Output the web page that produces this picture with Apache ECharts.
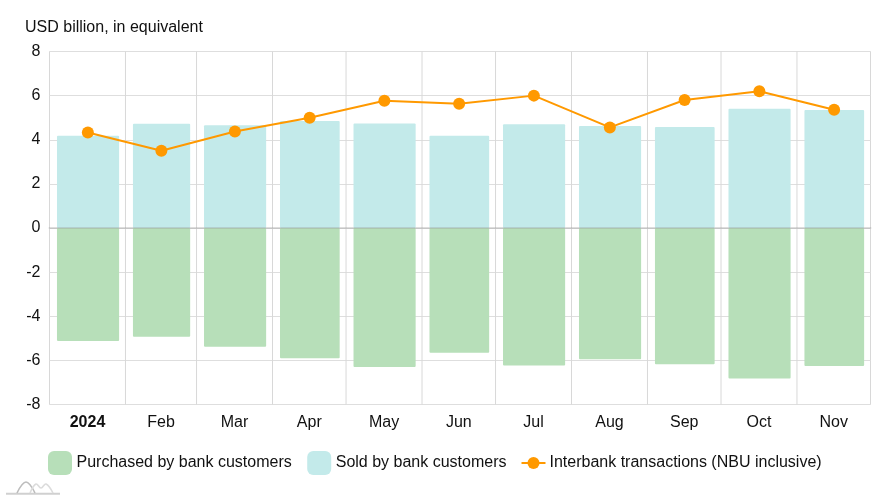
<!DOCTYPE html>
<html><head><meta charset="utf-8">
<style>html,body{margin:0;padding:0;background:#fff}#c{width:891px;height:500px}</style>
<script src="https://cdn.jsdelivr.net/npm/echarts@6/dist/echarts.min.js"></script>
</head><body><div id="c"></div>
<script>
const months = ['2024','Feb','Mar','Apr','May','Jun','Jul','Aug','Sep','Oct','Nov'];
const purchased = [-5.12,-4.93,-5.38,-5.9,-6.3,-5.66,-6.23,-5.95,-6.17,-6.82,-6.26];
const sold = [4.18,4.72,4.66,4.85,4.74,4.18,4.7,4.62,4.58,5.4,5.35];
const interbank = [4.33,3.5,4.37,5.0,5.77,5.63,6.0,4.56,5.8,6.2,5.36];
const seriesNames = ['Purchased by bank customers','Sold by bank customers','Interbank transactions (NBU inclusive)'];
const yTicks = {min:-8,max:8,interval:2};
const year = 2024, DAY = 86400000;

const start = i => Date.UTC(year, i, 1);
const mid = i => (start(i) + start(i + 1)) / 2;
const FONT = '"Liberation Sans", Arial, sans-serif';
const gapL = 3.05 * DAY, gapR = 2.6 * DAY;

function barRender(color) {
  return function (params, api) {
    const i = params.dataIndex;
    const p0 = api.coord([start(i) + gapL, 0]);
    const p1 = api.coord([start(i + 1) - gapR, api.value(1)]);
    return {
      type: 'rect',
      shape: {x: p0[0], y: Math.min(p0[1], p1[1]), width: p1[0] - p0[0], height: Math.abs(p1[1] - p0[1]), r: 1},
      style: {fill: color}
    };
  };
}
const chart = echarts.init(document.getElementById('c'), null, {renderer: 'canvas'});
chart.setOption({
  animation: false,
  useUTC: true,
  textStyle: {fontFamily: FONT},
  title: {text: 'USD billion, in equivalent', left: 25, top: 20, padding: 0,
    textStyle: {fontSize: 16, fontWeight: 'normal', color: '#111', fontFamily: FONT}},
  grid: {left: 49.5, right: 20.5, top: 51.5, bottom: 95.5, show: true, borderColor: '#d8d8d8', borderWidth: 1, backgroundColor: 'transparent'},
  legend: [
    {left: 48, top: 451, itemWidth: 24, itemHeight: 24, itemGap: 15.5, padding: 0, textStyle: {fontSize: 16, color: '#111', fontFamily: FONT, padding: [0,0,3,-0.5]},
      data: [{name: seriesNames[0], icon: 'roundRect'}, {name: seriesNames[1], icon: 'roundRect'}]},
    {left: 520.5, top: 455, itemWidth: 24, itemHeight: 15, padding: 0, textStyle: {fontSize: 16, color: '#111', fontFamily: FONT, padding: [0,0,2,-1]},
      data: [{name: seriesNames[2]}]}
  ],
  xAxis: {type: 'time', min: start(0), max: start(11),
    axisLine: {show: true, onZero: true, lineStyle: {color: 'rgba(150,150,150,0.32)', width: 2}}, z: 5,
    axisTick: {show: false}, axisLabel: {show: false}, splitLine: {show: false}},
  yAxis: {type: 'value', min: yTicks.min, max: yTicks.max, interval: yTicks.interval,
    axisLine: {show: false}, axisTick: {show: false},
    axisLabel: {fontSize: 16, color: '#111', margin: 9, fontFamily: FONT},
    splitLine: {lineStyle: {color: '#dedede', width: 1}}},
  series: [
    {type: 'custom', name: 'separators', silent: true, z: 1, data: months.slice(1).map((m, i) => [start(i + 1)]),
      encode: {x: 0}, renderItem(params, api) {
        const x = api.coord([api.value(0), 0])[0];
        const top = api.coord([api.value(0), yTicks.max])[1], bot = api.coord([api.value(0), yTicks.min])[1];
        return {type: 'line', shape: {x1: x, y1: top, x2: x, y2: bot}, style: {stroke: '#d8d8d8', lineWidth: 1}};
      }},
    {type: 'custom', name: seriesNames[0], z: 2, itemStyle: {color: '#b7dfb9'}, renderItem: barRender('#b7dfb9'),
      data: purchased.map((v, i) => [mid(i), v]), encode: {x: 0, y: 1}},
    {type: 'custom', name: seriesNames[1], z: 2, itemStyle: {color: '#c3eaea'}, renderItem: barRender('#c3eaea'),
      data: sold.map((v, i) => [mid(i), v]), encode: {x: 0, y: 1}},
    {type: 'line', name: seriesNames[2], z: 6, data: interbank.map((v, i) => [mid(i) + 0.15 * DAY, v]),
      symbol: 'circle', symbolSize: 12, showSymbol: true, itemStyle: {color: '#ff9900'}, lineStyle: {color: '#ff9900', width: 2}},
    {type: 'custom', name: 'labels', silent: true, z: 7, clip: false, data: months.map((m, i) => [mid(i), i]),
      encode: {x: 0}, renderItem(params, api) {
        const i = params.dataIndex;
        const p = api.coord([api.value(0), yTicks.min]);
        return {type: 'text', x: p[0], y: p[1] + 18, style: {text: months[i], fill: '#111', font: (i === 0 ? 'bold ' : '') + '16px ' + FONT, align: 'center', verticalAlign: 'middle'}};
      }}
  ],
  graphic: [
    {type: 'polyline', silent: true, shape: {points: [[6,493.7],[60,493.7]]}, style: {stroke: '#d0d0d0', lineWidth: 2, fill: null}},
    {type: 'polyline', silent: true, shape: {smooth: 0.4, points: [[17,493],[26,482],[35,493]]}, style: {stroke: '#bdbdbd', lineWidth: 1.6, fill: null}},
    {type: 'polyline', silent: true, shape: {smooth: 0.4, points: [[30,493],[36,484],[41,488],[46,484],[53,493]]}, style: {stroke: '#dcdcdc', lineWidth: 1.6, fill: null}}
  ]
});
</script></body></html>
